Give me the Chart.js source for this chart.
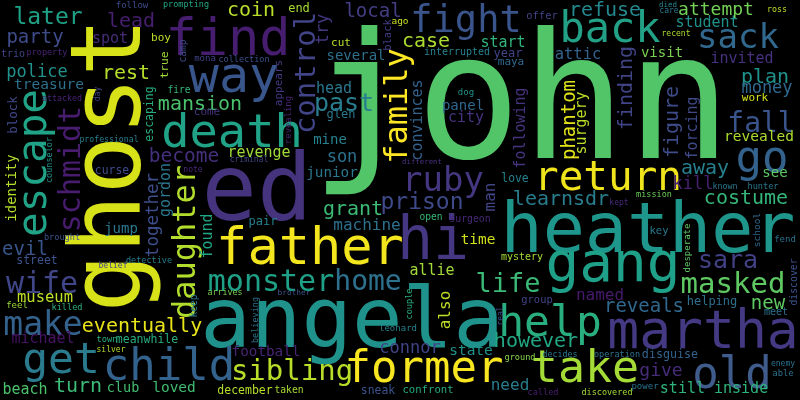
<!DOCTYPE html>
<html>
<head>
<meta charset="utf-8">
<title>Word cloud</title>
<script src="https://cdn.jsdelivr.net/npm/chart.js@4.4.0/dist/chart.umd.min.js"></script>
<style>
  html, body { margin: 0; padding: 0; background: #000; }
  canvas { display: block; }
</style>
</head>
<body>
<canvas id="cloud" width="800" height="400"></canvas>
<script>
// words of the cloud, biggest first
const words = [
  'john', 'ghost', 'angela', 'ed', 'heather', 'find', 'father', 'gang', 'martha', 'hi',
  'take', 'former', 'child', 'back', 'death', 'way', 'return', 'escape', 'help', 'get',
  'old', 'go', 'fight', 'sack', 'ruby', 'family', 'daughter', 'make', 'masked', 'monster',
  'wife', 'schmidt', 'sibling', 'control', 'home', 'fall', 'life', 'past', 'sara', 'later',
  'prison', 'lead', 'mansion', 'rest', 'coin', 'refuse', 'grant', 'finding', 'figure', 'plan',
  'costume', 'away', 'however', 'learnsdr', 'turn', 'eventually', 'become', 'case', 'party', 'local',
  'evil', 'reveals', 'new', 'phantom', 'try', 'give', 'attempt', 'money', 'kill', 'son',
  'police', 'together', 'connor', 'named', 'man', 'also', 'need', 'museum', 'attic', 'revenge',
  'spot', 'head', 'start', 'city', 'convinces', 'following', 'surgery', 'forcing', 'gordon', 'found',
  'allie', 'beach', 'student', 'invited', 'machine', 'michael', 'still inside', 'revealed', 'treasure', 'state',
  'loved', 'mine', 'junior', 'time', 'football', 'identity', 'several', 'jump', 'visit', 'panel',
  'see', 'club', 'end', 'block', 'glen', 'helping', 'pair', 'year', 'disguise', 'street',
  'meanwhile', 'december', 'escaping', 'sneak', 'curse', 'love', 'true', 'boy', 'cut', 'appears',
  'maya', 'come', 'work', 'key', 'confront', 'offer', 'black', 'group', 'trio', 'interrupted',
  'mystery', 'meet', 'surgeon', 'discover', 'taken', 'fire', 'camp', 'open', 'keep', 'school',
  'ago', 'leonard', 'fend', 'power', 'desperate', 'follow', 'mona', 'dog', 'revealing', 'feel',
  'able', 'town', 'brought', 'killed', 'hunter', 'couple', 'called', 'ground', 'prompting', 'property',
  'collection', 'counselor', 'detective', 'believing', 'mission', 'operation', 'discovered', 'attacked', 'ross', 'known',
  'decides', 'arrives', 'professional', 'recent', 'criminal', 'belief', 'care', 'kept', 'real', 'note',
  'enemy', 'brother', 'died', 'different', 'day', 'silver'
];

// weight of each word = font size in px
const sizes = [
  175, 98, 84, 92, 70, 52, 52, 56, 53, 60,
  45, 44, 44, 42, 47, 50, 41, 41, 43, 43,
  44, 44, 37, 34, 34, 32, 32, 33, 29, 30,
  30, 30, 29, 29, 28, 28, 27, 25, 25, 23,
  23, 20, 20, 20, 20, 20, 20, 20, 20, 20,
  20, 20, 20, 20, 20, 20, 19.5, 20, 19, 19,
  19, 19, 19, 19, 17, 18, 18, 17, 17, 17,
  17, 17.5, 17, 16, 16, 16, 16, 15.5, 15.5, 15,
  15, 15, 15, 15, 15, 15, 15, 15, 15, 15,
  15, 15, 15, 15, 16, 15, 15, 14.5, 14.5, 14.5,
  14.5, 14, 14.3, 14.4, 14.3, 14, 14, 14, 14, 14,
  14, 13.5, 12, 12.5, 12, 12, 12, 12, 11.7, 11.5,
  11.5, 11.5, 11.5, 11.4, 11.4, 11.4, 11.3, 11, 11, 11,
  11, 11, 11, 10.6, 10.6, 10.4, 10.4, 10.4, 10, 10,
  10, 10, 9.8, 9.8, 9.7, 9.6, 9.6, 9.6, 9.6, 9.5,
  9.5, 9, 9, 9, 9, 9, 9, 9, 8.9, 9,
  8.7, 8.7, 8.6, 8.6, 8.6, 8.6, 8.6, 8.6, 8.5, 8.5,
  8.5, 8.5, 8.5, 8.5, 8.5, 8.5, 8.5, 8.3, 8.3, 8.3,
  8.3, 8.3, 8.2, 8, 8, 8, 8, 8, 8, 8,
  8, 7.8, 7.5, 7.4, 8, 8
];

// layout: x = centre (vertical words: baseline), y = baseline (vertical words: centre)
const xs = [
  521, 140, 352, 257, 648, 228, 310, 613, 703, 433,
  585, 424, 169, 610, 232, 234, 608, 46, 550, 61,
  732, 762, 466, 738, 443, 407, 195, 43, 733, 271,
  42, 80, 292, 315, 368, 761, 508, 344, 728, 48,
  422, 131, 200, 126, 251, 605, 353, 632, 678, 765,
  746, 705, 536, 561, 78, 142, 184, 426, 35, 373,
  25, 644, 768, 575, 328, 661, 716, 767, 693, 342,
  37, 158, 410, 600, 495, 450, 510, 45, 578, 259,
  110, 334, 503, 466, 422, 525, 586, 697, 170, 212,
  432, 25, 707, 742, 367, 43, 714, 759, 49, 471,
  174, 330, 332, 478, 266, 16, 356, 121, 662, 463,
  775, 123, 299, 17, 341, 712, 263, 508, 670, 37,
  147, 245, 153, 378, 112, 515, 168, 161, 341, 282,
  511, 207, 755, 659, 428, 542, 391, 537, 13, 457,
  522, 776, 470, 797, 289, 179, 186, 431, 197, 760,
  400, 398, 785, 645, 690, 132, 205, 466, 291, 17,
  783, 107, 62, 67, 763, 412, 543, 520, 186, 47,
  244, 52, 149, 258, 654, 617, 607, 62, 777, 725,
  560, 225, 109, 676, 249, 113, 669, 619, 503, 193,
  783, 294, 668, 422, 100, 111
];

const ys = [
  158, 165, 347, 220, 252, 55, 264, 281, 348, 259,
  382, 382, 380, 42, 147, 92, 190, 163, 336, 373,
  388, 172, 32, 48, 191, 106, 242, 335, 293, 291,
  293, 169, 380, 73, 290, 132, 292, 111, 268, 24,
  209, 27, 110, 79, 16, 16, 215, 88, 122, 83,
  204, 174, 347, 205, 392, 332, 162, 47, 43, 17,
  255, 312, 309, 120, 29, 376, 15, 93, 189, 162,
  77, 215, 353, 300, 197, 310, 390, 302, 59, 157,
  43, 93, 47, 122, 120, 128, 123, 128, 190, 236,
  275, 394, 27, 63, 230, 343, 393, 141, 89, 355,
  392, 144, 177, 244, 356, 188, 60, 233, 57, 110,
  177, 392, 12, 115, 118, 305, 225, 57, 358, 264,
  343, 394, 114, 394, 174, 182, 65, 41, 46, 83,
  65, 115, 101, 234, 393, 19, 35, 303, 57, 55,
  260, 315, 222, 282, 393, 93, 51, 220, 306, 230,
  24, 331, 242, 389, 248, 8, 61, 95, 120, 308,
  376, 342, 240, 310, 189, 304, 395, 360, 7, 55,
  62, 160, 263, 320, 197, 357, 395, 101, 12, 189,
  357, 295, 142, 36, 162, 268, 13, 205, 316, 172,
  366, 295, 7, 164, 94, 352
];

// 1 = drawn rotated, reading bottom to top
const vertical = [
  0, 1, 0, 0, 0, 0, 0, 0, 0, 0,
  0, 0, 0, 0, 0, 0, 0, 1, 0, 0,
  0, 0, 0, 0, 0, 1, 1, 0, 0, 0,
  0, 1, 0, 1, 0, 0, 0, 0, 0, 0,
  0, 0, 0, 0, 0, 0, 0, 1, 1, 0,
  0, 0, 0, 0, 0, 0, 0, 0, 0, 0,
  0, 0, 0, 1, 1, 0, 0, 0, 0, 0,
  0, 1, 0, 0, 1, 1, 0, 0, 0, 0,
  0, 0, 0, 0, 1, 1, 1, 1, 1, 1,
  0, 0, 0, 0, 0, 0, 0, 0, 0, 0,
  0, 0, 0, 0, 0, 1, 0, 0, 0, 0,
  0, 0, 0, 1, 0, 0, 0, 0, 0, 0,
  0, 0, 1, 0, 0, 0, 1, 0, 0, 1,
  0, 0, 0, 0, 0, 0, 1, 0, 0, 0,
  0, 0, 0, 1, 0, 0, 1, 0, 1, 1,
  0, 0, 0, 0, 1, 0, 0, 0, 1, 0,
  0, 0, 0, 0, 0, 1, 0, 0, 0, 0,
  0, 1, 0, 1, 0, 0, 0, 0, 0, 0,
  0, 0, 0, 0, 0, 0, 0, 0, 1, 0,
  0, 0, 0, 0, 1, 0
];

// viridis-like colour per word
const colors = [
  '#52c569', '#d8e219', '#20928c', '#46337e', '#1f968b', '#471e6f', '#f4e61e', '#1fa088', '#443983', '#453781',
  '#a5db36', '#f8e621', '#33638d', '#22a187', '#20a386', '#39568c', '#f0e51d', '#20a386', '#29af7f', '#2a7b8e',
  '#3f5c8c', '#33638d', '#3a548c', '#31688e', '#453781', '#fde725', '#b2dd2d', '#33638d', '#5ec962', '#1fa187',
  '#404688', '#481c6e', '#b8de29', '#414487', '#2d718e', '#3a548c', '#3aba76', '#287d8e', '#424186', '#1fa187',
  '#3e4a89', '#481f70', '#4ac16d', '#b5de2b', '#b8de29', '#23898e', '#3bbb75', '#414487', '#3e4c8a', '#20928c',
  '#34b679', '#27808e', '#22a884', '#287d8e', '#3bbb75', '#e8e419', '#46307e', '#addc30', '#3e4c8a', '#433e85',
  '#39568c', '#31688e', '#5ec962', '#e2e418', '#453781', '#472c7a', '#73d056', '#31688e', '#482173', '#2c718e',
  '#21918c', '#3d4e8a', '#414487', '#481a6c', '#414487', '#bade28', '#287d8e', '#bddf26', '#33638d', '#a0da39',
  '#472c7a', '#2a788e', '#2fb47c', '#46327e', '#33638d', '#46337e', '#bade28', '#3e4a89', '#2a788e', '#21a685',
  '#a2da37', '#4ac16d', '#20928c', '#46327e', '#2d708e', '#471365', '#2fb47c', '#addc30', '#2c728e', '#20928c',
  '#40bd72', '#26828e', '#2a788e', '#d0e11c', '#482475', '#b5de2b', '#2d708e', '#2a788e', '#7ad151', '#31688e',
  '#5ec962', '#42be71', '#a8db34', '#3f4889', '#2a788e', '#2d708e', '#26828e', '#414487', '#33638d', '#3b528b',
  '#27ad81', '#b5de2b', '#27ad81', '#3b528b', '#3e4c8a', '#26828e', '#a0da39', '#bddf26', '#b5de2b', '#443983',
  '#31688e', '#46327e', '#d2e21b', '#2a788e', '#26ad81', '#414487', '#433e85', '#414487', '#414487', '#26828e',
  '#a5db36', '#2c728e', '#482878', '#3b528b', '#a8db34', '#35b779', '#3e4a89', '#37b878', '#2a788e', '#31688e',
  '#c8e020', '#26828e', '#2c728e', '#2c728e', '#5ec962', '#3e4c8a', '#414487', '#20928c', '#482475', '#9fda3a',
  '#2c728e', '#29af7f', '#3b528b', '#2ab07f', '#2a788e', '#29af7f', '#481f70', '#86d549', '#22a884', '#482475',
  '#3b528b', '#20928c', '#287d8e', '#2c728e', '#6ece58', '#2c728e', '#a2da37', '#482475', '#bddf26', '#2a788e',
  '#2a788e', '#7ad151', '#287d8e', '#a8db34', '#414487', '#414487', '#2a788e', '#482878', '#3e4c8a', '#482878',
  '#2c728e', '#3b528b', '#26828e', '#46327e', '#3e4a89', '#b2dd2d'
];

const FONT = "'DejaVu Sans Mono', 'Liberation Mono', monospace";

// black background under the whole chart
const blackBackground = {
  id: 'blackBackground',
  beforeDraw(chart) {
    const { ctx, width, height } = chart;
    ctx.save();
    ctx.fillStyle = '#000';
    ctx.fillRect(0, 0, width, height);
    ctx.restore();
  }
};

// draws each word at the pixel position of its point
const wordLabels = {
  id: 'wordLabels',
  afterDatasetsDraw(chart) {
    const { ctx, chartArea } = chart;
    const meta = chart.getDatasetMeta(0);
    const k = (chartArea.right - chartArea.left) / 800;
    ctx.save();
    ctx.textAlign = 'center';
    ctx.textBaseline = 'alphabetic';
    meta.data.forEach((pt, i) => {
      ctx.save();
      ctx.translate(pt.x, pt.y);
      if (vertical[i]) ctx.rotate(-Math.PI / 2);
      ctx.font = `${sizes[i] * k}px ${FONT}`;
      ctx.fillStyle = colors[i];
      ctx.fillText(words[i], 0, 0);
      ctx.restore();
    });
    ctx.restore();
  }
};

new Chart(document.getElementById('cloud'), {
  type: 'scatter',
  data: {
    labels: words,
    datasets: [{
      data: words.map((w, i) => ({ x: xs[i], y: ys[i] })),
      pointRadius: 0,
      pointHoverRadius: 0
    }]
  },
  options: {
    responsive: false,
    animation: false,
    layout: { padding: 0 },
    events: [],
    plugins: {
      legend: { display: false },
      tooltip: { enabled: false }
    },
    scales: {
      x: { type: 'linear', min: 0, max: 800, display: false },
      y: { type: 'linear', min: 0, max: 400, reverse: true, display: false }
    }
  },
  plugins: [blackBackground, wordLabels]
});
</script>
</body>
</html>
